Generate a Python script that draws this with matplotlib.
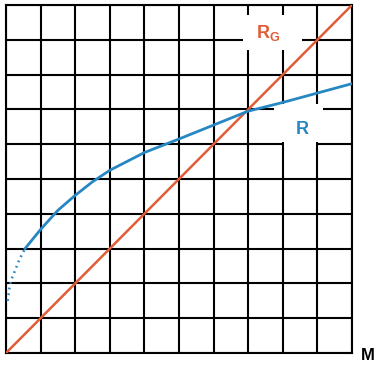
import matplotlib
matplotlib.use("Agg")
import matplotlib.pyplot as plt
from matplotlib.patches import Rectangle

plt.rcParams['font.family'] = ['Liberation Sans', 'DejaVu Sans']
plt.rcParams['mathtext.fontset'] = 'custom'
plt.rcParams['mathtext.rm'] = 'Liberation Sans'
plt.rcParams['mathtext.bf'] = 'Liberation Sans:bold'

# diagonal R_G line
rg_x = [0, 10]
rg_y = [0, 10]

# R curve, solid part
r_x = [0.55, 1, 1.5, 2, 2.5, 3, 4, 5, 6, 7, 8, 9, 10]
r_y = [3.0, 3.55, 4.1, 4.53, 4.92, 5.25, 5.76, 6.15, 6.55, 6.95, 7.2, 7.47, 7.74]

# R curve, dotted start
rd_x = [0.05, 0.1, 0.15, 0.25, 0.38, 0.55]
rd_y = [1.5, 1.87, 2.1, 2.34, 2.67, 3.0]

orange = '#e25c38'
blue = '#2787c3'

fig = plt.figure(figsize=(3.77, 3.65), dpi=100)
ax = fig.add_axes([0.0159, 0.0329, 0.9178, 0.9534])

ax.set_xlim(0, 10)
ax.set_ylim(0, 10)
ax.set_xticks(range(11))
ax.set_yticks(range(11))
ax.tick_params(length=0, labelbottom=False, labelleft=False)
ax.set_axisbelow(True)
ax.grid(True, color='black', lw=1.5)
for s in ax.spines.values():
    s.set_color('black')
    s.set_linewidth(1.5)

# white label boxes that cut the grid
ax.add_patch(Rectangle((6.85, 8.71), 1.7, 1.0, facecolor='white', edgecolor='none', zorder=1))
ax.add_patch(Rectangle((7.75, 6.05), 1.4, 1.1, facecolor='white', edgecolor='none', zorder=1))
ax.add_patch(Rectangle((8.03, 5.9), 0.94, 0.2, facecolor='white', edgecolor='none', zorder=1))

ax.plot(rg_x, rg_y, color=orange, lw=1.8, zorder=3)
ax.plot(r_x, r_y, color=blue, lw=2.0, zorder=3)
ax.plot(rd_x, rd_y, color=blue, lw=1.8, ls=(0, (0.7, 1.6)), zorder=3)

ax.text(7.57, 9.2, r'$\mathbf{R}_{\mathbf{G}}$', color=orange, fontsize=13,
        ha='center', va='center', zorder=4)
ax.text(8.55, 6.43, 'R', color=blue, fontsize=13, fontweight='bold',
        ha='center', va='center', zorder=4)

fig.text(0.976, 0.027, 'M', color='black', fontsize=12, fontweight='bold',
         ha='center', va='center')

fig.savefig('out.png', dpi=100)
